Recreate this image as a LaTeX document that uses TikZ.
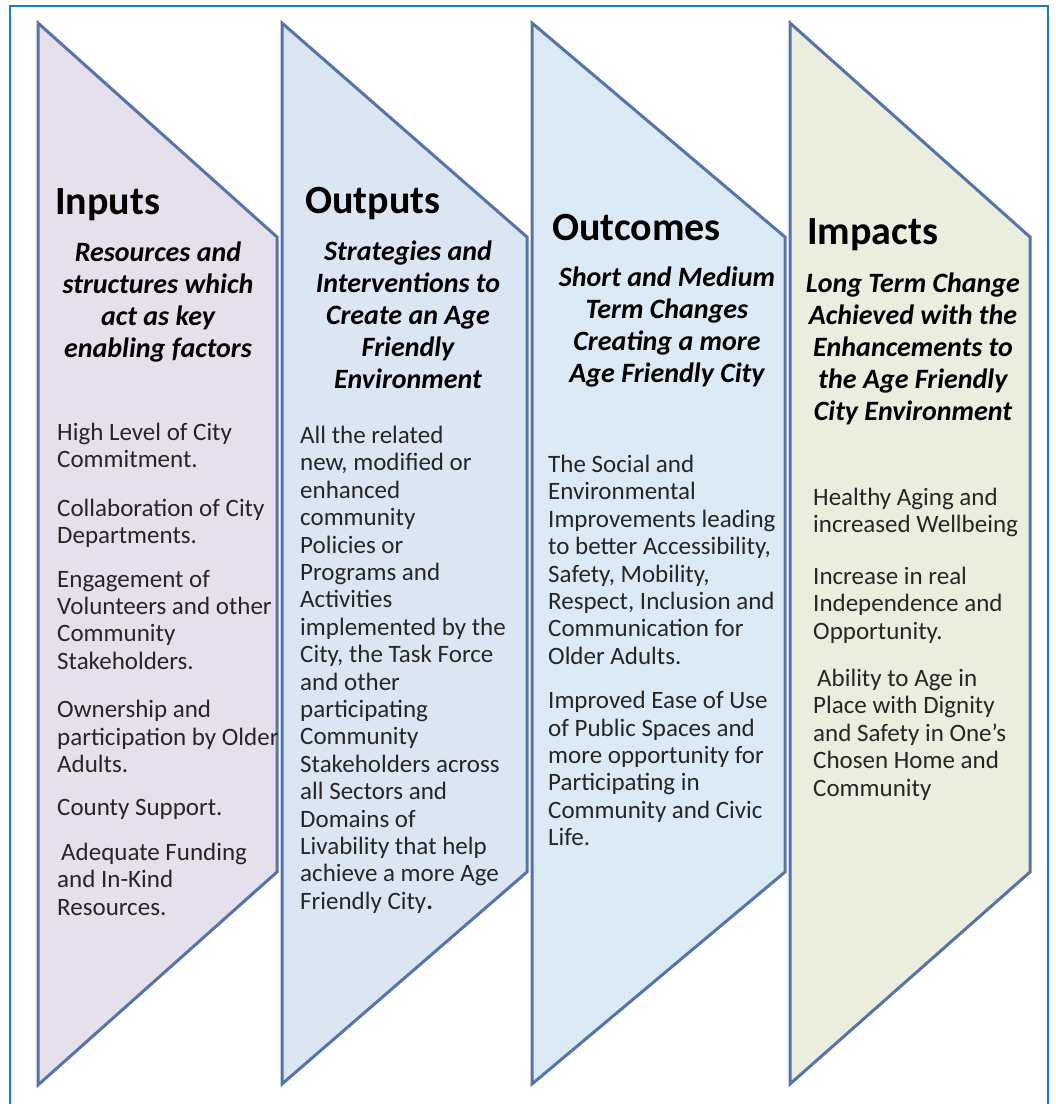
\documentclass[tikz,border=0pt]{standalone}
\usepackage{fontspec}
\setmainfont{Carlito}
\usetikzlibrary{positioning}
\definecolor{edgeblue}{RGB}{84,116,170}
\definecolor{frameblue}{RGB}{30,120,210}
\definecolor{inpfill}{RGB}{229,224,236}
\definecolor{outfill}{RGB}{220,230,242}
\definecolor{ocmfill}{RGB}{219,234,245}
\definecolor{impfill}{RGB}{235,237,222}

\begin{document}
\begin{tikzpicture}[x=1pt, y=-1pt,
	band/.style={draw=edgeblue, line width=3pt, line join=miter},
	ttl/.style={anchor=base west, inner sep=0pt, font=\fontsize{40}{44}\selectfont\bfseries},
	sub/.style={anchor=north, inner sep=0pt, align=center, font=\fontsize{28}{32}\selectfont\bfseries\itshape},
	txt/.style={anchor=north west, inner sep=0pt, align=left, text=black!85, font=\fontsize{25}{27.4}\selectfont}]
		\useasboundingbox (0,0) rectangle (1056,1104);
		\draw[frameblue, line width=2pt] (10,6) rectangle (1048,1110);
		% the four bands
		\draw[band, fill=inpfill] (38,23) -- (277,237) -- (277,872) -- (38,1085) -- cycle;
		\draw[band, fill=outfill] (282,23) -- (527,237) -- (527,872) -- (282,1084) -- cycle;
		\draw[band, fill=ocmfill] (532,23) -- (785,237) -- (785,872) -- (532,1084) -- cycle;
		\draw[band, fill=impfill] (790,23) -- (1030,237) -- (1030,872) -- (790,1084) -- cycle;
		% headings
		\node[ttl] (tin) at (55,214) {Inputs};
		\node[ttl] (tout) at (305,213) {Outputs};
		\node[ttl] (tocm) at (552,240) {Outcomes};
		\node[ttl] (timp) at (807,244) {Impacts};
		\node[sub] (sin) at (158,242) {Resources and\\ structures which\\ act as key\\ enabling factors};
		\node[sub] (sout) at (408,241) {Strategies and\\ Interventions to\\ Create an Age\\ Friendly\\ Environment};
		\node[sub] (socm) at (667,267) {Short and Medium\\ Term Changes\\ Creating a more\\ Age Friendly City};
		\node[sub] (simp) at (913,273) {Long Term Change\\ Achieved with the\\ Enhancements to\\ the Age Friendly\\ City Environment};
		% body texts
		\node[txt] (bin) at (57,423) {High Level of City\\ Commitment.\\[21pt] Collaboration of City\\ Departments.\\[16pt]
			Engagement of\\ Volunteers and other\\ Community\\ Stakeholders.\\[21pt] Ownership and\\ participation by Older\\ Adults.\\[16pt]
			County Support.\\[17pt] \hspace*{4pt}Adequate Funding\\ and In-Kind\\ Resources.};
		\node[txt] (bout) at (300,426) {All the related\\ new, modified or\\ enhanced\\ community\\ Policies or\\ Programs and\\ Activities\\
			implemented by the\\ City, the Task Force\\ and other\\ participating\\ Community\\ Stakeholders across\\ all Sectors and\\
			Domains of\\ Livability that help\\ achieve a more Age\\ Friendly City\textbf{.}};
		\node[txt] (bocm) at (548,455) {The Social and\\ Environmental\\ Improvements leading\\ to better Accessibility,\\ Safety, Mobility,\\
			Respect, Inclusion and\\ Communication for\\ Older Adults.\\[17pt] Improved Ease of Use\\ of Public Spaces and\\
			more opportunity for\\ Participating in\\ Community and Civic\\ Life.};
		\node[txt] (bimp) at (813,488) {Healthy Aging and\\ increased Wellbeing\\[24pt] Increase in real\\ Independence and\\ Opportunity.\\[20pt]
			\hspace*{4pt}Ability to Age in\\ Place with Dignity\\ and Safety in One's\\ Chosen Home and\\ Community};
	\end{tikzpicture}
\end{document}
